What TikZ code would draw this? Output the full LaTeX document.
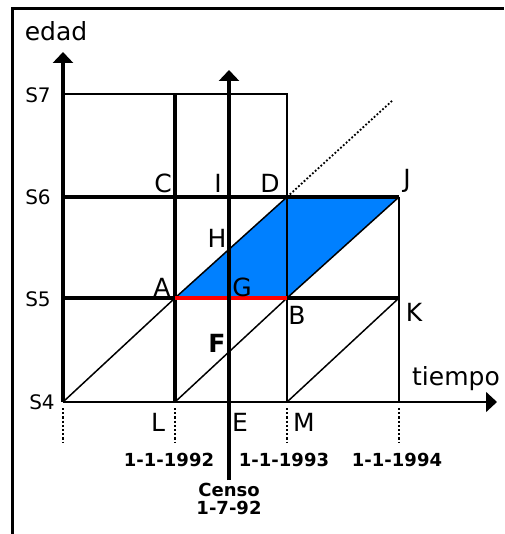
\documentclass[tikz,border=0pt]{standalone}
\usepackage{fontspec}
\setmainfont{DejaVu Sans}
\usetikzlibrary{arrows.meta}
\definecolor{fillblue}{RGB}{0,128,255}
\definecolor{redline}{RGB}{255,0,0}
\begin{document}
\begin{tikzpicture}[x=1pt,y=-1pt,
  thickln/.style={line width=3.5pt},
  medln/.style={line width=2.2pt},
  thinln/.style={line width=1.3pt},
  diag/.style={line width=1.5pt},
  tickdots/.style={line width=2.2pt, dotted},
  axtip/.style={-{Triangle[width=20pt,length=11pt]}},
  lbl/.style={inner sep=0pt, font=\fontsize{25}{25}\selectfont},
  slbl/.style={inner sep=0pt, font=\fontsize{20}{20}\selectfont},
  dlbl/.style={inner sep=0pt, font=\bfseries\fontsize{18}{18}\selectfont},
]
\useasboundingbox (0,0) rectangle (504,534);
\fill[white] (0,0) rectangle (504,534);
% frame (open at right and bottom)
\draw[line width=3pt] (12,534) -- (12,9) -- (504,9);

% points
\coordinate (O) at (63,402);
\coordinate (Ytop) at (63,52);
\coordinate (S7a) at (63,94);
\coordinate (S7b) at (175,94);
\coordinate (S7c) at (287,94);
\coordinate (S6a) at (63,197);
\coordinate (C) at (175,197);
\coordinate (D) at (287,197);
\coordinate (J) at (399,197);
\coordinate (S5a) at (63,298);
\coordinate (A) at (175,298);
\coordinate (B) at (287,298);
\coordinate (K) at (399,298);
\coordinate (L) at (175,402);
\coordinate (M) at (287,402);
\coordinate (N) at (399,402);
\coordinate (Xtip) at (497,402);
\coordinate (CenBot) at (229,480);
\coordinate (CenTop) at (229,70);
\coordinate (Ext) at (393,100);

% blue parallelogram
\fill[fillblue] (A) -- (B) -- (J) -- (D) -- cycle;

% grid lines
\draw[thinln] (S7a) -- (S7c) -- (D);
\draw[medln] (D) -- (M);
\draw[thickln] (S7b) -- (L);
\draw[thinln] (J) -- (N);
\draw[thickln] (S6a) -- (J);
\draw[thickln] (S5a) -- (K);

% diagonals
\draw[diag] (O) -- (A) -- (D);
\draw[diag] (L) -- (B) -- (J);
\draw[diag] (M) -- (K);
\draw[line width=1.8pt, dotted] (D) -- (Ext);

% red segment
\draw[line width=3.5pt, redline] (A) -- (B);

% axes
\draw[thickln, axtip] (O) -- (Ytop);
\draw[line width=1.6pt, axtip] (O) -- (Xtip);
\draw[thickln, axtip] (CenBot) -- (CenTop);

% dotted ticks below time axis
\draw[tickdots] (63,408) -- (63,443);
\draw[tickdots] (175,408) -- (175,443);
\draw[tickdots] (287,408) -- (287,443);
\draw[tickdots] (399,408) -- (399,443);

% labels
\node[lbl] (tedad) at (56,31) {edad};
\node[lbl] (ttiempo) at (456,379) {tiempo};
\node[slbl] (tS7) at (38,95) {S7};
\node[slbl] (tS6) at (38,197) {S6};
\node[slbl] (tS5) at (38,299) {S5};
\node[slbl] (tS4) at (42,402) {S4};
\node[lbl] (tC) at (163,183) {C};
\node[lbl] (tI) at (218,183) {I};
\node[lbl] (tD) at (270,183) {D};
\node[lbl] (tJ) at (407,181) {J};
\node[lbl] (tH) at (217,238) {H};
\node[lbl] (tA) at (162,287) {A};
\node[lbl] (tG) at (242,287) {G};
\node[lbl] (tF) at (217,343) {\bfseries F};
\node[lbl] (tB) at (297,315) {B};
\node[lbl] (tK) at (414,312) {K};
\node[lbl] (tL) at (158,422) {L};
\node[lbl] (tE) at (240,422) {E};
\node[lbl] (tM) at (304,422) {M};
\node[dlbl] (d92) at (169,460) {1-1-1992};
\node[dlbl] (d93) at (284,460) {1-1-1993};
\node[dlbl] (d94) at (397,460) {1-1-1994};
\node[dlbl] (cen) at (229,490) {Censo};
\node[dlbl] (cen2) at (229,508) {1-7-92};
\end{tikzpicture}
\end{document}
